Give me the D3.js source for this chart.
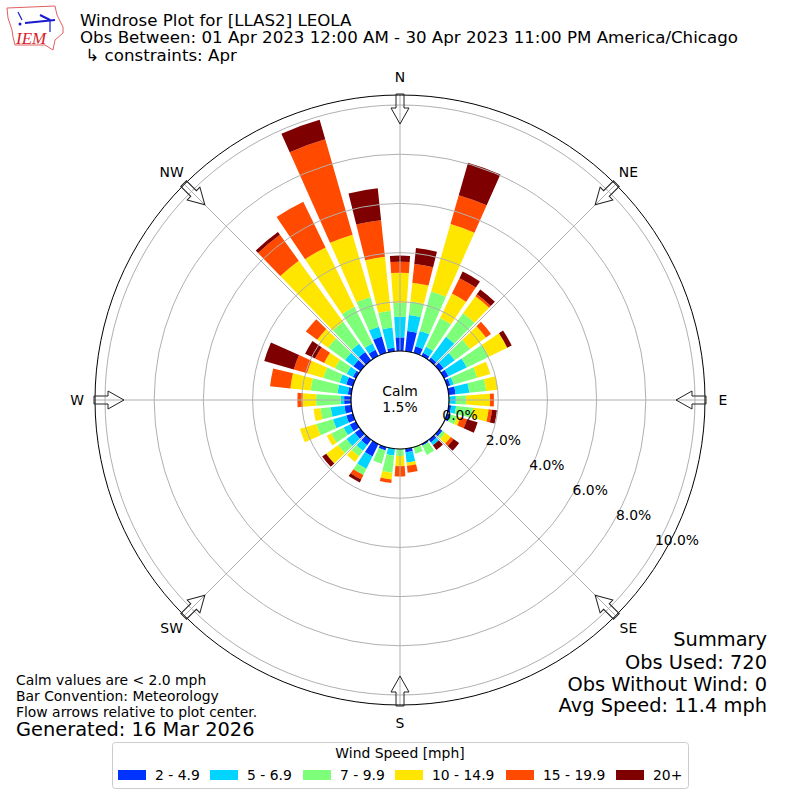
<!DOCTYPE html>
<html>
<head>
<meta charset="utf-8">
<script src="https://cdn.jsdelivr.net/npm/d3@7/dist/d3.min.js"></script>
<style>
  html, body { margin: 0; padding: 0; background: #fff; }
  svg { display: block; }
  text { font-family: "DejaVu Sans", sans-serif; fill: #000; }
</style>
</head>
<body>
<svg id="chart" width="800" height="800"></svg>
<script>
// percent of observations per 10 degree bin, clockwise from north
const directions = d3.range(0, 360, 10);
const blue   = [.56,.83,.28,.14,.14,.2,.2,.14,.28,0,.1,.14,0,.14,.14,.07,0,.14,0,0,.14,.56,.28,.28,.28,.28,.28,.28,.14,.28,.14,.35,.42,.28,.69,.14];
const cyan   = [.83,.65,.65,.28,1.05,.56,.83,.14,.56,.28,.2,0,0,0,.14,0,0,.42,0,.28,0,.56,.28,.42,.28,.56,.56,.14,.42,.28,.28,.42,.42,.28,.42,.83];
const green  = [.57,.55,1.67,1.3,1.18,.77,1,1,.69,.42,.7,.28,0,.14,0,.42,.28,0,.28,.7,.56,.28,.28,.42,.56,.7,.42,1,1.1,.69,.53,.85,1.1,1.67,1.25,.69];
const yellow = [1.22,.77,2.85,1.1,.85,.8,.83,.55,.48,.97,.63,.14,0,.28,0,0,0,.14,.42,.28,0,0,.28,.6,.2,.7,.28,.55,.83,.69,.49,.55,3.07,2.68,2.64,2.2];
const orange = [.45,.77,1.22,.7,.1,.25,0,0,0,.16,.14,.28,0,.14,0,0,0,.28,.42,.14,0,.2,0,0,0,0,0,.21,.83,.56,.41,.57,1.3,2.07,4.03,1.5];
const dark   = [.25,.65,1.37,.3,.24,0,.2,0,0,0,.2,.45,0,.28,.24,0,0,0,0,0,0,.14,0,.2,0,0,0,0,0,1.25,.45,0,.14,0,.83,1.3];

const series = [blue, cyan, green, yellow, orange, dark];
const speedLabels = ['2 - 4.9', '5 - 6.9', '7 - 9.9', '10 - 14.9', '15 - 19.9', '20+'];
const speedColors = ['#0033ff', '#00d4ff', '#7dff7a', '#ffe600', '#ff4a00', '#7f0000'];
const ringTicks = [0, 2, 4, 6, 8, 10];
const compass = ['N', 'NE', 'E', 'SE', 'S', 'SW', 'W', 'NW'];

const titleLines = [
  'Windrose Plot for [LLAS2] LEOLA',
  'Obs Between: 01 Apr 2023 12:00 AM - 30 Apr 2023 11:00 PM America/Chicago',
  ' \u21b3 constraints: Apr'
];
const noteLines = ['Calm values are < 2.0 mph', 'Bar Convention: Meteorology', 'Flow arrows relative to plot center.'];
const summaryLines = ['Summary', 'Obs Used: 720', 'Obs Without Wind: 0', 'Avg Speed: 11.4 mph'];

const svg = d3.select('#chart');
const cx = 400, cy = 400;
const r = d3.scaleLinear().domain([0, 10]).range([49, 295]);
const outerR = 305;
const barWidth = 8 * Math.PI / 180;
const toRad = d => d * Math.PI / 180;

const plot = svg.append('g').attr('transform', `translate(${cx},${cy})`);

// stacked wedges
const arc = d3.arc();
directions.forEach((dir, i) => {
  let base = 0;
  series.forEach((s, k) => {
    const v = s[i];
    if (!v) return;
    plot.append('path')
      .attr('fill', speedColors[k])
      .attr('d', arc({
        innerRadius: r(base),
        outerRadius: r(base + v),
        startAngle: toRad(dir) - barWidth / 2,
        endAngle: toRad(dir) + barWidth / 2
      }));
    base += v;
  });
});

// grid sits above the bars
const gridColor = '#b0b0b0';
compass.forEach((c, i) => {
  const a = toRad(i * 45);
  plot.append('line')
    .attr('x1', 0).attr('y1', 0)
    .attr('x2', outerR * Math.sin(a)).attr('y2', -outerR * Math.cos(a))
    .attr('stroke', gridColor).attr('stroke-width', 1);
});
plot.selectAll('circle.ring').data(ringTicks.slice(1)).join('circle')
  .attr('class', 'ring').attr('r', d => r(d))
  .attr('fill', 'none').attr('stroke', gridColor).attr('stroke-width', 1);

plot.append('circle').attr('r', outerR).attr('fill', 'none').attr('stroke', '#000').attr('stroke-width', 1);

// hollow flow arrows on the compass points
const arrowLine = d3.line();
const arrowShape = [[-4, -306], [4, -306], [4, -292], [9, -292], [0, -276], [-9, -292], [-4, -292]];
compass.forEach((c, i) => {
  plot.append('path')
    .attr('d', arrowLine(arrowShape) + 'Z')
    .attr('transform', `rotate(${i * 45})`)
    .attr('fill', 'none').attr('stroke', '#222').attr('stroke-width', 1);
  const a = toRad(i * 45);
  plot.append('text')
    .attr('x', 323 * Math.sin(a)).attr('y', -323 * Math.cos(a))
    .attr('dy', '0.36em').attr('text-anchor', 'middle').attr('font-size', 13.9)
    .text(c);
});

// calm circle
plot.append('circle').attr('r', r(0)).attr('fill', '#fff').attr('stroke', '#000').attr('stroke-width', 1.2);
plot.append('text').attr('y', -4).attr('text-anchor', 'middle').attr('font-size', 13.9).text('Calm');
plot.append('text').attr('y', 12).attr('text-anchor', 'middle').attr('font-size', 13.9).text('1.5%');

// ring labels run a little off the ring spacing, so they get their own scales
const labelX = d3.scaleLinear().domain([0, 10]).range([460, 677]);
const labelY = d3.scaleLinear().domain([0, 10]).range([415, 540]);
ringTicks.forEach(t => {
  svg.append('text')
    .attr('x', labelX(t))
    .attr('y', labelY(t))
    .attr('dy', '0.36em').attr('text-anchor', 'middle').attr('font-size', 13.9)
    .text(t.toFixed(1) + '%');
});

// title block
const titleY = [26, 43, 61];
titleLines.forEach((t, i) => {
  svg.append('text').attr('x', 80).attr('y', titleY[i]).attr('font-size', 16.67)
    .style('white-space', 'pre').text(t);
});

// logo
const logo = svg.append('g');
logo.append('path')
  .attr('d', 'M7,8 L55,6 L57,15 L63,27 L63,33 L55,40 L53,50 L45,45 L15,45 L13,37 L12,30 L8,18 Z')
  .attr('fill', 'none').attr('stroke', '#e06060').attr('stroke-width', 1);
logo.append('path')
  .attr('d', 'M25,23 L55,20 M40,15 L50,20')
  .attr('fill', 'none').attr('stroke', '#1a1ad0').attr('stroke-width', 2);
logo.append('path')
  .attr('d', 'M18,12 L22,20 M50,20 L50,32')
  .attr('fill', 'none').attr('stroke', '#1a1ad0').attr('stroke-width', 1.2);
logo.append('circle').attr('cx', 20).attr('cy', 24).attr('r', 1.5).attr('fill', '#1a1ad0');
logo.append('text').attr('x', 16).attr('y', 44).attr('font-size', 17)
  .style('font-family', '"Liberation Serif", serif').style('font-style', 'italic').style('fill', '#d8202a')
  .text('IEM');

// notes
const noteY = [685, 701, 717];
noteLines.forEach((t, i) => {
  svg.append('text').attr('x', 16).attr('y', noteY[i]).attr('font-size', 13.9).text(t);
});
svg.append('text').attr('x', 16).attr('y', 736).attr('font-size', 19.4).text('Generated: 16 Mar 2026');

// summary
const summaryY = [646, 669, 691, 712];
summaryLines.forEach((t, i) => {
  svg.append('text').attr('x', 767).attr('y', summaryY[i]).attr('text-anchor', 'end').attr('font-size', 19.4).text(t);
});

// legend
const legend = svg.append('g');
legend.append('rect').attr('x', 112.5).attr('y', 742.5).attr('width', 576).attr('height', 46).attr('rx', 3)
  .attr('fill', '#fff').attr('stroke', '#ccc').attr('stroke-width', 1);
legend.append('text').attr('x', 400).attr('y', 758).attr('text-anchor', 'middle').attr('font-size', 13.9).text('Wind Speed [mph]');
const swatchX = [118, 210, 303, 395, 506, 616];
speedLabels.forEach((t, i) => {
  legend.append('rect').attr('x', swatchX[i]).attr('y', 770).attr('width', 28).attr('height', 10).attr('fill', speedColors[i]);
  legend.append('text').attr('x', swatchX[i] + 37).attr('y', 780).attr('font-size', 13.9).text(t);
});
</script>
</body>
</html>
